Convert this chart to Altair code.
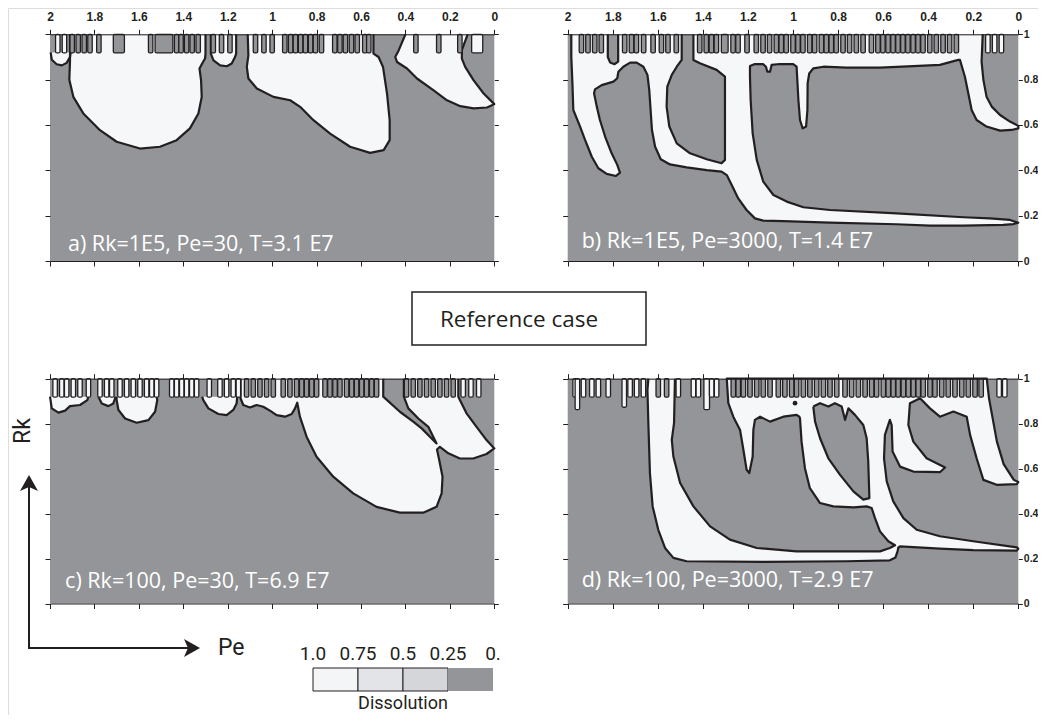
import altair as alt
import pandas as pd

# ---------------------------------------------------------------- data
PE_DOMAIN = [0, 2]
RK_DOMAIN = [0, 1]
PE_TICKS = [0, 0.2, 0.4, 0.6, 0.8, 1.0, 1.2, 1.4, 1.6, 1.8, 2.0]
RK_TICKS = [0, 0.2, 0.4, 0.6, 0.8, 1.0]

TITLES = {
    "a": "a) Rk=1E5, Pe=30, T=3.1 E7",
    "b": "b) Rk=1E5, Pe=3000, T=1.4 E7",
    "c": "c) Rk=100, Pe=30, T=6.9 E7",
    "d": "d) Rk=100, Pe=3000, T=2.9 E7",
}
TITLE_PE = {"a": 1.919, "b": 1.938, "c": 1.932, "d": 1.938}
TITLE_RK = {"a": 0.045, "b": 0.056, "c": 0.071, "d": 0.072}

# dissolved (white) regions, outlines as (Pe, Rk) vertices
A_WHITE = [
    [(1.997, 0.92), (1.992, 0.888), (1.970, 0.868), (1.947, 0.863), (1.925, 0.874), (1.910, 0.900), (1.907, 0.92)],
    [(1.91, 1.0), (1.91, 0.88), (1.913, 0.80), (1.895, 0.724), (1.85, 0.651), (1.775, 0.577), (1.70, 0.526),
     (1.595, 0.496), (1.505, 0.504), (1.43, 0.533), (1.37, 0.585), (1.332, 0.651), (1.317, 0.724), (1.32, 0.797),
     (1.327, 0.849), (1.315, 0.871), (1.302, 0.893), (1.30, 0.915), (1.30, 1.0)],
    [(1.276, 1.0), (1.276, 0.915), (1.264, 0.885), (1.234, 0.863), (1.204, 0.859), (1.182, 0.871), (1.167, 0.90),
     (1.162, 0.915), (1.162, 1.0)],
    [(1.11, 1.0), (1.107, 0.907), (1.114, 0.856), (1.107, 0.805), (1.069, 0.761), (0.994, 0.724), (0.919, 0.709),
     (0.874, 0.68), (0.814, 0.621), (0.739, 0.562), (0.649, 0.504), (0.559, 0.477), (0.498, 0.489), (0.471, 0.533),
     (0.471, 0.621), (0.483, 0.739), (0.501, 0.856), (0.521, 0.90), (0.544, 0.915), (0.544, 1.0)],
    [(0.40, 1.0), (0.43, 0.93), (0.446, 0.90), (0.438, 0.878), (0.393, 0.849), (0.348, 0.805), (0.273, 0.753),
     (0.213, 0.709), (0.153, 0.683), (0.093, 0.673), (0.033, 0.677), (0.0, 0.692), (0.048, 0.739), (0.093, 0.797),
     (0.131, 0.856), (0.146, 0.893), (0.146, 0.93), (0.12, 1.0)],
]
A_GRAY = []
A_GRAY_FINGERS = [1.90, 1.873, 1.846, 1.82, 1.78, (1.69, 0.05), 1.547, (1.487, 0.08), 1.43, 1.41, 1.385, 1.36,
                  1.333, 1.265, 1.228, 1.19, 1.075, 1.037, 1.0, 0.943, 0.917, 0.895, 0.872, 0.85, 0.827, 0.805,
                  0.778, 0.718, 0.695, 0.67, 0.643, 0.617, 0.583, 0.565, 0.353, 0.25, 0.155]
A_WHITE_FINGERS = [1.965, 1.935, (0.077, 0.05)]

B_WHITE = [[
    (1.984, 1.0), (1.984, 0.901), (1.979, 0.784), (1.975, 0.666), (1.945, 0.593), (1.923, 0.534), (1.893, 0.460),
    (1.864, 0.409), (1.827, 0.384), (1.786, 0.375), (1.768, 0.390), (1.780, 0.424), (1.805, 0.475), (1.834, 0.549),
    (1.857, 0.622), (1.871, 0.681), (1.883, 0.740), (1.879, 0.757), (1.849, 0.776), (1.797, 0.791), (1.780, 0.806),
    (1.775, 0.835), (1.753, 0.857), (1.723, 0.875), (1.694, 0.875), (1.664, 0.857), (1.646, 0.821), (1.638, 0.754),
    (1.632, 0.666), (1.626, 0.578), (1.612, 0.504), (1.587, 0.449), (1.546, 0.426), (1.472, 0.413), (1.383, 0.401),
    (1.317, 0.394), (1.294, 0.379), (1.272, 0.335), (1.243, 0.276), (1.206, 0.225), (1.169, 0.188), (1.132, 0.178),
    (1.043, 0.176), (0.836, 0.169), (0.540, 0.162), (0.392, 0.156), (0.244, 0.156), (0.067, 0.159), (0.022, 0.163),
    (0.0, 0.169), (0.037, 0.181), (0.126, 0.188), (0.244, 0.193), (0.540, 0.210), (0.836, 0.225), (0.954, 0.237),
    (1.028, 0.262), (1.087, 0.291), (1.132, 0.350), (1.161, 0.446), (1.179, 0.563), (1.188, 0.710), (1.191, 0.813),
    (1.191, 0.860), (1.169, 0.869), (1.132, 0.868), (1.120, 0.857), (1.114, 0.835), (1.102, 0.835), (1.095, 0.865),
    (1.058, 0.869), (0.999, 0.868), (0.984, 0.857), (0.976, 0.710), (0.969, 0.622), (0.957, 0.585), (0.942, 0.593),
    (0.936, 0.666), (0.935, 0.784), (0.928, 0.827), (0.910, 0.850), (0.865, 0.857), (0.762, 0.853), (0.614, 0.853),
    (0.466, 0.860), (0.348, 0.865), (0.266, 0.887), (0.259, 0.887), (0.237, 0.813), (0.222, 0.740), (0.207, 0.666),
    (0.185, 0.622), (0.141, 0.593), (0.081, 0.575), (0.030, 0.578), (0.0, 0.585), (0.0, 0.596), (0.037, 0.615),
    (0.081, 0.644), (0.118, 0.681), (0.141, 0.725), (0.155, 0.799), (0.163, 0.879), (0.158, 1.0)]]
B_GRAY = [
    [(1.494, 1.0), (1.494, 0.887), (1.516, 0.857), (1.538, 0.821), (1.558, 0.769), (1.561, 0.681), (1.549, 0.593),
     (1.516, 0.519), (1.457, 0.475), (1.383, 0.449), (1.317, 0.431), (1.302, 0.446), (1.302, 0.563), (1.302, 0.710),
     (1.302, 0.813), (1.339, 0.843), (1.413, 0.872), (1.442, 0.887), (1.442, 1.0)],
    [(1.822, 1.0), (1.822, 0.90), (1.812, 0.876), (1.792, 0.868), (1.776, 0.88), (1.776, 1.0)],
]
B_GRAY_FINGERS = [1.939, 1.910, 1.880, 1.851, 1.747, 1.717, 1.695, 1.663, 1.621, 1.584, 1.555, 1.518, 1.414,
                  1.385, 1.362, 1.340, (1.303, 0.03), 1.266, 1.244, 1.204, 1.163, 1.133, 1.104, 1.074, 1.052,
                  1.030, 1.0, 0.978, 0.956, 0.926, 0.904, 0.874, 0.852, 0.830, 0.808, 0.778, 0.749, 0.719, 0.689,
                  0.652, 0.623, 0.601, 0.578, 0.556, 0.534, 0.512, 0.490, 0.467, 0.445, 0.423, 0.393, 0.364,
                  0.334, 0.305, 0.275]
B_WHITE_FINGERS = [0.135, 0.105, 0.075]

C_WHITE = [
    [(2.0, 0.92), (1.992, 0.868), (1.962, 0.849), (1.932, 0.858), (1.91, 0.878), (1.865, 0.883), (1.832, 0.905),
     (1.827, 0.92)],
    [(1.782, 0.92), (1.767, 0.89), (1.737, 0.878), (1.715, 0.89), (1.707, 0.912), (1.707, 0.92)],
    [(1.70, 0.92), (1.70, 0.905), (1.692, 0.861), (1.662, 0.823), (1.61, 0.804), (1.557, 0.816), (1.527, 0.853),
     (1.517, 0.905), (1.52, 0.92)],
    [(1.315, 0.92), (1.31, 0.905), (1.287, 0.868), (1.242, 0.843), (1.205, 0.838), (1.175, 0.861), (1.16, 0.89),
     (1.157, 0.92)],
    [(1.142, 1.0), (1.142, 0.912), (1.13, 0.883), (1.10, 0.872), (1.07, 0.883), (1.04, 0.875), (1.01, 0.858),
     (0.98, 0.838), (0.942, 0.831), (0.912, 0.843), (0.897, 0.868), (0.887, 0.893), (0.875, 0.831), (0.845, 0.742),
     (0.80, 0.653), (0.725, 0.564), (0.635, 0.49), (0.53, 0.43), (0.425, 0.404), (0.32, 0.404), (0.26, 0.43),
     (0.237, 0.49), (0.233, 0.564), (0.248, 0.638), (0.258, 0.685), (0.245, 0.697), (0.207, 0.668), (0.155, 0.645),
     (0.095, 0.645), (0.035, 0.665), (0.0, 0.69), (0.035, 0.727), (0.08, 0.786), (0.125, 0.846), (0.147, 0.89),
     (0.162, 0.92), (0.162, 1.0)],
]
C_GRAY = [
    [(0.50, 1.0), (0.50, 0.92), (0.425, 0.853), (0.365, 0.809), (0.327, 0.779), (0.29, 0.742), (0.26, 0.712),
     (0.275, 0.742), (0.297, 0.786), (0.342, 0.823), (0.387, 0.868), (0.407, 0.92), (0.407, 1.0)],
]
C_WHITE_FINGERS = [1.977, 1.947, 1.925, 1.895, 1.865, 1.827, 1.775, 1.745, 1.722, 1.685, 1.655, 1.625, 1.595,
                   1.565, 1.542, 1.520, 1.452, 1.430, 1.407, 1.385, 1.362, 1.340, 1.283, 1.235, 1.205, 1.175,
                   1.152, 0.14, 0.105, 0.07]
C_GRAY_FINGERS = [1.115, 1.085, 1.055, 1.025, 0.995, 0.950, 0.920, 0.890, 0.867, 0.845, 0.822, 0.800, 0.762,
                  0.740, 0.717, 0.695, 0.665, 0.642, 0.620, 0.597, 0.575, 0.552, 0.530, 0.395, 0.365, 0.335,
                  0.305, 0.275, 0.245, 0.215, 0.185]

D_WHITE = [[
    (1.642, 1.0), (1.646, 0.950), (1.642, 0.802), (1.635, 0.580), (1.623, 0.432), (1.598, 0.328), (1.568, 0.247),
    (1.531, 0.203), (1.472, 0.188), (1.132, 0.185), (0.762, 0.188), (0.570, 0.192), (0.545, 0.205), (0.535, 0.235),
    (0.533, 0.248), (0.525, 0.254), (0.348, 0.244), (0.200, 0.237), (0.007, 0.235), (0.0, 0.244), (0.007, 0.250),
    (0.200, 0.277), (0.348, 0.299), (0.451, 0.328), (0.510, 0.380), (0.555, 0.454), (0.584, 0.543), (0.596, 0.646),
    (0.592, 0.750), (0.570, 0.817), (0.562, 0.794), (0.558, 0.676), (0.525, 0.609), (0.466, 0.587), (0.348, 0.584),
    (0.325, 0.605), (0.407, 0.646), (0.466, 0.720), (0.488, 0.794), (0.481, 0.891), (0.436, 0.913), (0.392, 0.868),
    (0.348, 0.831), (0.288, 0.854), (0.229, 0.831), (0.214, 0.750), (0.185, 0.646), (0.155, 0.550), (0.096, 0.528),
    (0.007, 0.531), (0.0, 0.540), (0.02, 0.55), (0.065, 0.62), (0.095, 0.72), (0.115, 0.83), (0.13, 0.913),
    (0.14, 1.0), (1.294, 1.0), (1.287, 0.891), (1.265, 0.831), (1.235, 0.772), (1.220, 0.683), (1.206, 0.595),
    (1.194, 0.580), (1.179, 0.654), (1.176, 0.772), (1.169, 0.817), (1.146, 0.831), (1.102, 0.809), (1.043, 0.831),
    (0.984, 0.839), (0.972, 0.831), (0.969, 0.824), (0.962, 0.720), (0.947, 0.602), (0.925, 0.513), (0.880, 0.447),
    (0.821, 0.432), (0.732, 0.428), (0.673, 0.432), (0.651, 0.425), (0.636, 0.380), (0.614, 0.321), (0.577, 0.277),
    (0.547, 0.259), (0.570, 0.247), (0.614, 0.232), (0.762, 0.232), (0.984, 0.232), (1.161, 0.247), (1.280, 0.284),
    (1.368, 0.343), (1.442, 0.432), (1.501, 0.536), (1.531, 0.654), (1.538, 0.728), (1.528, 0.802), (1.524, 1.0)]]
D_GRAY = [
    [(0.910, 0.876), (0.880, 0.891), (0.843, 0.876), (0.814, 0.891), (0.784, 0.876), (0.769, 0.817), (0.754, 0.868),
     (0.725, 0.839), (0.688, 0.794), (0.673, 0.735), (0.666, 0.632), (0.661, 0.469), (0.688, 0.462), (0.732, 0.499),
     (0.791, 0.572), (0.843, 0.646), (0.880, 0.735), (0.902, 0.809), (0.910, 0.876)],
]
D_WHITE_FINGERS = [1.967, (1.957, 0.02, 0.862), 1.930, 1.893, 1.864, 1.820, (1.749, 0.02, 0.873), 1.723, 1.694,
                   1.664, 1.509, 1.442, 1.42, (1.383, 0.025, 0.862), 1.361, 1.339, 0.085, 0.06]
D_GRAY_FINGERS = [1.598, 1.561, 1.265, 1.243, 1.220, 1.191, 1.161, 1.132, 1.102, 1.065, 1.036, 1.006, 0.984,
                  0.954, 0.925, 0.895, 0.865, 0.836, 0.806, 0.769, 0.740, 0.710, 0.680, 0.651, 0.629, 0.599,
                  0.577, 0.555, 0.533, 0.510, 0.488, 0.466, 0.444, 0.422, 0.392, 0.370, 0.340, 0.311, 0.281,
                  0.251, 0.222, 0.192, 0.165]
D_DOT = [(0.991, 0.891)]

LEGEND_LEVELS = [1.0, 0.75, 0.5, 0.25, 0.0]
LEGEND_LABELS = ["1.0", "0.75", "0.5", "0.25", "0."]
LEGEND_COLORS = ["#f4f5f7", "#e3e4e7", "#d5d6d9", "#939598"]

# ---------------------------------------------------------------- style / layout
W, H = 1030, 707
GRAY = "#939598"
WHITE = "#f6f7f9"
INK = "#231f20"
NARROW = "Roboto"
MYRIAD = "Open Sans"
FINGER_W = 0.02
FINGER_BOTTOM = 0.918
# (x at Pe=2, x at Pe=0, y at Rk=1, y at Rk=0)
LAYOUT = {
    "a": (42.0, 486.3, 26.3, 253.0),
    "b": (559.7, 1010.3, 26.3, 253.0),
    "c": (42.0, 486.3, 370.7, 595.5),
    "d": (559.7, 1010.3, 370.7, 595.5),
}
TOP_LABELS = {"a": True, "b": True, "c": False, "d": False}
RIGHT_LABELS = {"a": False, "b": True, "c": False, "d": True}


def shapes_df(shapes):
    rows = []
    for sid, pts in enumerate(shapes):
        for i, (pe, rk) in enumerate(pts):
            rows.append({"sid": sid, "i": i, "pe": pe, "rk": rk})
    return pd.DataFrame(rows, columns=["sid", "i", "pe", "rk"])


def fingers_df(gray_list, white_list):
    rows = []
    for lst, col in ((gray_list, GRAY), (white_list, WHITE)):
        for f in lst:
            if isinstance(f, tuple):
                c = f[0]
                w = f[1] if len(f) > 1 else FINGER_W
                b = f[2] if len(f) > 2 else FINGER_BOTTOM
            else:
                c, w, b = f, FINGER_W, FINGER_BOTTOM
            rows.append({"x0": c - w / 2, "x1": c + w / 2, "y0": b, "y1": 1.0, "col": col})
    return pd.DataFrame(rows)


def make_axis(orient, offset, values, labels):
    horizontal = orient in ("top", "bottom")
    right = orient == "right"
    return alt.Axis(
        orient=orient, offset=offset, values=values, labels=labels, format="~g",
        domain=horizontal, domainColor=INK, domainWidth=1,
        ticks=True, tickSize=4 if right else 5, tickColor=INK, tickWidth=1, grid=False, title=None,
        labelFont="Liberation Sans", labelFontWeight="bold", labelFontSize=10.5 if right else 12,
        labelColor=INK, labelPadding=6 if horizontal else 1, labelFlush=False, labelOverlap=False,
        zindex=1,
    )


def panel(p, white_shapes, gray_shapes, gray_fingers, white_fingers, dots=None):
    x0, x1, yt, yb = LAYOUT[p]
    xs = alt.Scale(domain=PE_DOMAIN, range=[x1, x0], nice=False, zero=False)
    ys = alt.Scale(domain=RK_DOMAIN, range=[yb, yt], nice=False, zero=False)
    layers = []

    bg = pd.DataFrame({"x0": [PE_DOMAIN[0]], "x1": [PE_DOMAIN[1]], "y0": [RK_DOMAIN[0]], "y1": [RK_DOMAIN[1]]})
    layers.append(alt.Chart(bg).mark_rect(color=GRAY).encode(
        x=alt.X("x0:Q", scale=xs, axis=make_axis("top", -yt, PE_TICKS, TOP_LABELS[p])),
        x2="x1:Q",
        y=alt.Y("y0:Q", scale=ys, axis=make_axis("left", -x0, RK_TICKS, False)),
        y2="y1:Q",
    ))

    wdf = shapes_df(white_shapes)
    layers.append(alt.Chart(wdf).mark_line(filled=True, color=WHITE, strokeWidth=0,
                                           interpolate="linear-closed").encode(
        x=alt.X("pe:Q", scale=xs, axis=None), y=alt.Y("rk:Q", scale=ys, axis=None),
        detail="sid:N", order="i:Q"))
    if gray_shapes:
        gdf = shapes_df(gray_shapes)
        layers.append(alt.Chart(gdf).mark_line(filled=True, color=GRAY, strokeWidth=0,
                                               interpolate="linear-closed").encode(
            x=alt.X("pe:Q", scale=xs, axis=None), y=alt.Y("rk:Q", scale=ys, axis=None),
            detail="sid:N", order="i:Q"))
    layers.append(alt.Chart(wdf).mark_line(color=INK, strokeWidth=2.2, strokeJoin="round",
                                           interpolate="linear").encode(
        x=alt.X("pe:Q", scale=xs, axis=make_axis("bottom", yb - H, PE_TICKS, False)),
        y=alt.Y("rk:Q", scale=ys, axis=make_axis("right", x1 - W, RK_TICKS, RIGHT_LABELS[p])),
        detail="sid:N", order="i:Q"))
    if gray_shapes:
        layers.append(alt.Chart(gdf).mark_line(color=INK, strokeWidth=2.2, strokeJoin="round",
                                               interpolate="linear").encode(
            x=alt.X("pe:Q", scale=xs, axis=None), y=alt.Y("rk:Q", scale=ys, axis=None),
            detail="sid:N", order="i:Q"))

    fdf = fingers_df(gray_fingers, white_fingers)
    layers.append(alt.Chart(fdf).mark_rect(stroke=INK, strokeWidth=1.3, cornerRadius=1.5).encode(
        x=alt.X("x0:Q", scale=xs, axis=None), x2="x1:Q",
        y=alt.Y("y0:Q", scale=ys, axis=None), y2="y1:Q",
        fill=alt.Fill("col:N", scale=None)))

    if dots:
        ddf = pd.DataFrame({"pe": [d[0] for d in dots], "rk": [d[1] for d in dots]})
        layers.append(alt.Chart(ddf).mark_circle(size=22, color=INK, opacity=1).encode(
            x=alt.X("pe:Q", scale=xs, axis=None), y=alt.Y("rk:Q", scale=ys, axis=None)))

    tdf = pd.DataFrame({"pe": [TITLE_PE[p]], "rk": [TITLE_RK[p]], "t": [TITLES[p]]})
    layers.append(alt.Chart(tdf).mark_text(align="left", baseline="alphabetic", font=MYRIAD,
                                           fontSize=21.5, color="white").encode(
        x=alt.X("pe:Q", scale=xs, axis=None), y=alt.Y("rk:Q", scale=ys, axis=None), text="t:N"))
    return layers


layers = []
layers += panel("a", A_WHITE, A_GRAY, A_GRAY_FINGERS, A_WHITE_FINGERS)
layers += panel("b", B_WHITE, B_GRAY, B_GRAY_FINGERS, B_WHITE_FINGERS)
layers += panel("c", C_WHITE, C_GRAY, C_GRAY_FINGERS, C_WHITE_FINGERS)
layers += panel("d", D_WHITE, D_GRAY, D_GRAY_FINGERS, D_WHITE_FINGERS, D_DOT)

one = pd.DataFrame({"k": [0]})

# "Reference case" box
layers.append(alt.Chart(one).mark_rect(fill="white", stroke=INK, strokeWidth=1.5).encode(
    x=alt.value(404), x2=alt.value(638), y=alt.value(284), y2=alt.value(337)))
layers.append(alt.Chart(pd.DataFrame({"t": ["Reference case"]})).mark_text(
    font=MYRIAD, fontSize=22.5, color=INK, align="center", baseline="alphabetic").encode(
    text="t:N", x=alt.value(511), y=alt.value(319)))

# axis arrows
layers.append(alt.Chart(one).mark_rule(color=INK, strokeWidth=2, strokeCap="square").encode(
    x=alt.value(21), y=alt.value(640), y2=alt.value(480)))
layers.append(alt.Chart(one).mark_rule(color=INK, strokeWidth=2, strokeCap="square").encode(
    x=alt.value(21), x2=alt.value(180), y=alt.value(640)))
layers.append(alt.Chart(one).mark_point(shape="M0,-0.8 L0.9,0.8 L0,0.4 L-0.9,0.8 Z", size=400,
                                        filled=True, color=INK, opacity=1, strokeWidth=0).encode(
    x=alt.value(21), y=alt.value(475)))
layers.append(alt.Chart(one).mark_point(shape="M0.8,0 L-0.8,-0.9 L-0.4,0 L-0.8,0.9 Z", size=400,
                                        filled=True, color=INK, opacity=1, strokeWidth=0).encode(
    x=alt.value(184), y=alt.value(640)))
layers.append(alt.Chart(pd.DataFrame({"t": ["Rk"]})).mark_text(
    font=NARROW, fontSize=23, color=INK, align="center", baseline="alphabetic", angle=270).encode(
    text="t:N", x=alt.value(22), y=alt.value(423)))
layers.append(alt.Chart(pd.DataFrame({"t": ["Pe"]})).mark_text(
    font=NARROW, fontSize=23, color=INK, align="left", baseline="alphabetic").encode(
    text="t:N", x=alt.value(210), y=alt.value(647)))

# dissolution legend
leg_scale = alt.Scale(domain=[0, 1], range=[485, 305], nice=False, zero=False)
leg_rects = pd.DataFrame({
    "hi": LEGEND_LEVELS[:-1], "lo": LEGEND_LEVELS[1:], "fill": LEGEND_COLORS,
    "edge": [INK, INK, INK, "transparent"],
})
layers.append(alt.Chart(leg_rects).mark_rect(strokeWidth=1).encode(
    x=alt.X("hi:Q", scale=leg_scale, axis=None), x2="lo:Q",
    y=alt.value(660), y2=alt.value(683),
    fill=alt.Fill("fill:N", scale=None), stroke=alt.Stroke("edge:N", scale=None)))
leg_text = pd.DataFrame({"v": LEGEND_LEVELS, "t": LEGEND_LABELS})
layers.append(alt.Chart(leg_text).mark_text(font=NARROW, fontSize=19, color=INK, align="center",
                                            baseline="alphabetic").encode(
    x=alt.X("v:Q", scale=leg_scale, axis=None), y=alt.value(652), text="t:N"))
layers.append(alt.Chart(pd.DataFrame({"t": ["Dissolution"]})).mark_text(
    font=NARROW, fontSize=18, color=INK, align="center", baseline="alphabetic").encode(
    text="t:N", x=alt.value(395), y=alt.value(701)))

chart = alt.layer(*layers).resolve_scale(x="independent", y="independent").properties(
    width=W, height=H, padding=0, autosize=alt.AutoSizeParams(type="none")
).configure_view(stroke=None).configure(background="white")

chart.save("out.html", embed_options={"renderer": "svg", "actions": False})
